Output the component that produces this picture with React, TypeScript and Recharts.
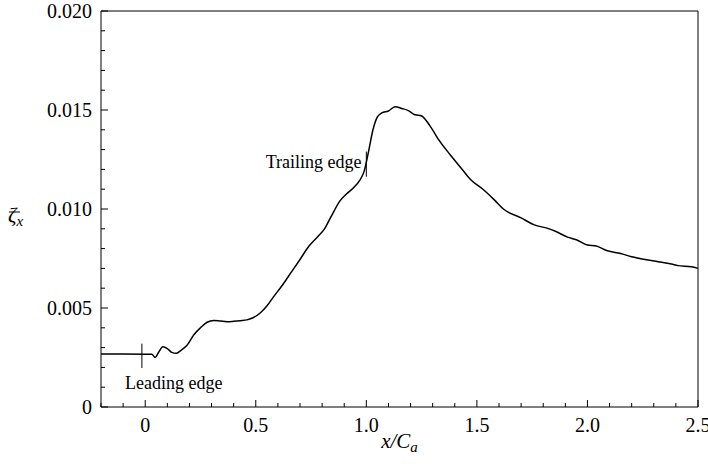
import { LineChart, Line, XAxis, YAxis, ReferenceLine, ReferenceDot } from 'recharts'

const xPos = [
  -0.2, -0.1, 0.0, 0.03, 0.045, 0.06, 0.08, 0.1, 0.12, 0.14, 0.16, 0.19, 0.22, 0.25, 0.28,
  0.31, 0.34, 0.37, 0.4, 0.43, 0.46, 0.49, 0.52, 0.55, 0.58, 0.62, 0.66, 0.7, 0.74, 0.78,
  0.81, 0.84, 0.88, 0.91, 0.94, 0.97, 0.99, 1.01, 1.03, 1.05, 1.07, 1.1, 1.13, 1.16, 1.19,
  1.22, 1.25, 1.29, 1.33, 1.38, 1.43, 1.47, 1.53, 1.58, 1.62, 1.7, 1.76, 1.82, 1.86, 1.91,
  1.95, 2.0, 2.04, 2.09, 2.15, 2.2, 2.26, 2.32, 2.38, 2.41, 2.47, 2.5,
]
const zetaX = [
  0.00268, 0.00268, 0.00267, 0.00266, 0.0025, 0.00275, 0.00304, 0.00295, 0.00276, 0.00271,
  0.00285, 0.00313, 0.00365, 0.004, 0.00428, 0.00437, 0.00434, 0.00431, 0.00433, 0.00436,
  0.0044, 0.00452, 0.00475, 0.0051, 0.00556, 0.00615, 0.0068, 0.00745, 0.00812, 0.0086,
  0.00898, 0.0096, 0.0104, 0.01076, 0.01105, 0.01145, 0.0119, 0.0129, 0.014, 0.01465,
  0.01485, 0.01495, 0.01517, 0.01508, 0.01497, 0.01476, 0.0147, 0.01416, 0.01345, 0.01273,
  0.01205, 0.0115, 0.01097, 0.01045, 0.01, 0.00955, 0.0092, 0.00902, 0.00885, 0.00858,
  0.00845, 0.00818, 0.00813, 0.00789, 0.00775, 0.00759, 0.00745, 0.00734, 0.00722, 0.00714,
  0.00708, 0.007,
]

const xTicks = [
  -0.2, -0.1, 0, 0.1, 0.2, 0.3, 0.4, 0.5, 0.6, 0.7, 0.8, 0.9, 1.0, 1.1, 1.2, 1.3, 1.4,
  1.5, 1.6, 1.7, 1.8, 1.9, 2.0, 2.1, 2.2, 2.3, 2.4, 2.5,
]
const yTicks = [
  0, 0.001, 0.002, 0.003, 0.004, 0.005, 0.006, 0.007, 0.008, 0.009, 0.01, 0.011, 0.012,
  0.013, 0.014, 0.015, 0.016, 0.017, 0.018, 0.019, 0.02,
]
const xLabels: Record<string, string> = { '0': '0', '0.5': '0.5', '1': '1.0', '1.5': '1.5', '2': '2.0', '2.5': '2.5' }
const yLabels: Record<string, string> = { '0': '0', '0.005': '0.005', '0.01': '0.010', '0.015': '0.015', '0.02': '0.020' }

const data = xPos.map((x, i) => ({ x, z: zetaX[i] }))

const font = { fontFamily: "'Liberation Serif', 'Times New Roman', serif" }

function XTick({ x, y, payload }: any) {
  const label = xLabels[String(payload.value)]
  return (
    <g>
      <line x1={x} y1={y} x2={x} y2={y - (label ? 7 : 4)} stroke="#000" strokeWidth={1} />
      {label && (
        <text x={x} y={y + 25} textAnchor="middle" style={font} fontSize={20} fill="#000">
          {label}
        </text>
      )}
    </g>
  )
}

function YTick({ x, y, payload }: any) {
  const label = yLabels[String(payload.value)]
  return (
    <g>
      <line x1={x} y1={y} x2={x + (label ? 7 : 4)} y2={y} stroke="#000" strokeWidth={1} />
      {label && (
        <text x={x - 9} y={y} dy="0.35em" textAnchor="end" style={font} fontSize={20} fill="#000">
          {label}
        </text>
      )}
    </g>
  )
}

function XLabel({ viewBox }: any) {
  const cx = viewBox.x + viewBox.width / 2
  return (
    <text x={cx} y={448} textAnchor="middle" style={font} fontSize={21} fontStyle="italic" fill="#000">
      x/C<tspan fontSize={15} dy={4}>a</tspan>
    </text>
  )
}

function YLabel() {
  return (
    <g>
      <line x1={9} y1={212} x2={20} y2={212} stroke="#000" strokeWidth={1} />
      <text x={8} y={222} style={font} fontSize={21} fontStyle="italic" fill="#000">
        ζ<tspan fontSize={15} dy={4}>x</tspan>
      </text>
    </g>
  )
}

function Note({ text, anchor }: { text: string; anchor: 'start' | 'middle' | 'end' }) {
  return ({ viewBox }: any) => (
    <text x={viewBox.cx ?? viewBox.x} y={viewBox.cy ?? viewBox.y} textAnchor={anchor}
      style={font} fontSize={18} fill="#000">
      {text}
    </text>
  )
}

export default function App() {
  return (
    <div style={{ position: 'absolute', left: 0, top: 0, width: 708, height: 468, background: '#fff' }}>
      <LineChart width={708} height={468} data={data} margin={{ top: 11, right: 10, left: 0, bottom: 0 }}>
        <XAxis
          dataKey="x"
          type="number"
          domain={[-0.2, 2.5]}
          ticks={xTicks}
          interval={0}
          height={61}
          tickSize={0}
          tickMargin={0}
          tickLine={false}
          axisLine={{ stroke: '#000' }}
          tick={(p: any) => <XTick {...p} />}
          label={<XLabel />}
        />
        <YAxis
          type="number"
          domain={[0, 0.02]}
          ticks={yTicks}
          interval={0}
          width={101}
          tickSize={0}
          tickMargin={0}
          tickLine={false}
          axisLine={{ stroke: '#000' }}
          tick={(p: any) => <YTick {...p} />}
          label={<YLabel />}
        />
        <ReferenceLine y={0.02} stroke="#000" />
        <ReferenceLine x={2.5} stroke="#000" />
        <ReferenceLine segment={[{ x: -0.015, y: 0.00197 }, { x: -0.015, y: 0.0032 }]} stroke="#000" />
        <ReferenceLine segment={[{ x: 1.0, y: 0.01163 }, { x: 1.0, y: 0.0129 }]} stroke="#000" />
        <ReferenceDot x={0.129} y={0.00091} r={0} stroke="none" label={Note({ text: 'Leading edge', anchor: 'middle' })} />
        <ReferenceDot x={0.978} y={0.01207} r={0} stroke="none" label={Note({ text: 'Trailing edge', anchor: 'end' })} />
        <Line
          type="monotone"
          dataKey="z"
          stroke="#000"
          strokeWidth={1.5}
          dot={false}
          isAnimationActive={false}
        />
      </LineChart>
    </div>
  )
}
